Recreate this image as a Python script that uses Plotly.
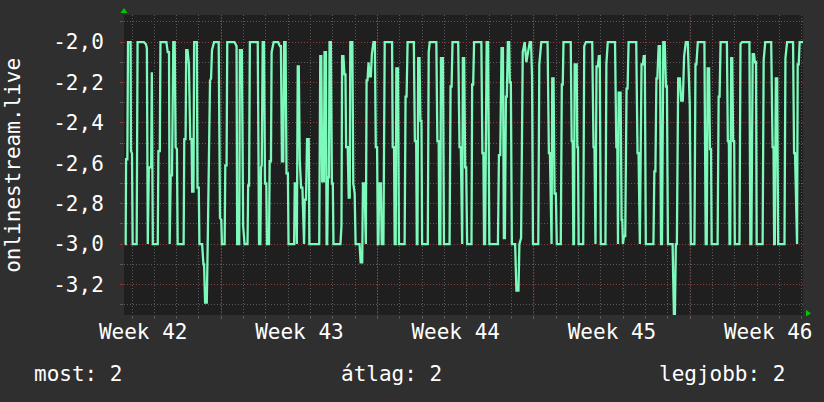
import plotly.graph_objects as go

# (hour since start, value) samples
part1 = [(0.0,-3.0),(0.7,-3.0),(1.1,-2.58),(2.5,-2.58),(3.2,-2.0),(6.0,-2.0),(6.4,-2.54),(7.5,-2.55),
         (8.2,-3.0),(12.5,-3.0),(13.5,-2.0),(20.3,-2.0),(22.4,-2.01),(23.5,-2.03),(24.5,-3.0),(25.6,-2.62),
         (28.1,-2.62),(28.8,-2.15),(29.9,-3.0),(35.2,-3.0),(35.9,-2.54),(37.4,-2.54),(38.1,-2.0),(44.5,-2.0),
         (45.9,-2.05),(47.3,-2.05),(48.0,-3.0),(49.1,-2.66),(50.5,-2.66),(51.9,-2.0),(53.4,-2.0),(54.4,-2.52),
         (55.8,-2.53),(56.6,-3.0),(63.0,-3.0),(63.7,-2.48),(65.1,-2.48),(65.8,-2.04),(67.2,-2.04),(68.7,-2.11),
         (70.1,-2.48),(71.5,-2.48),(72.2,-2.74),(73.6,-2.74),(74.3,-2.0),(77.2,-2.0),(77.9,-2.72),(79.3,-2.72),
         (80.0,-3.0),(82.9,-3.0),(84.3,-3.10),(85.0,-3.10),(86.1,-3.29),(87.9,-3.29),(88.9,-3.0),(91.4,-2.19),
         (92.5,-2.18),(93.5,-2.04),(95.7,-2.0),(100.7,-2.0),(102.1,-2.87),(103.5,-2.88),(104.2,-3.0),(107.1,-3.0),
         (107.8,-2.61),(109.2,-2.61),(109.9,-2.0),(117.7,-2.0),(119.9,-2.02)]
part2 = [(120.6,-3.0),(122.8,-3.0),(123.5,-2.04),(125.6,-2.04),(126.3,-2.51),(127.0,-2.91),(128.5,-3.0),
         (131.7,-3.0),(132.4,-2.71),(133.4,-2.71),(134.2,-2.0),(142.7,-2.0),(144.1,-3.0),(145.5,-3.0),
         (146.2,-2.62),(147.0,-2.61),(148.0,-2.0),(149.4,-2.0),(150.5,-2.70),(151.9,-2.70),(152.6,-3.0),
         (154.8,-3.0),(155.5,-2.59),(156.9,-2.59),(157.6,-2.05),(159.8,-2.0),(164.7,-2.0),(166.5,-2.02),
         (167.6,-2.02),(168.7,-2.59),(170.1,-2.59),(171.1,-2.0),(172.6,-2.0),(173.6,-2.65),(175.1,-2.65),
         (175.8,-3.0),(181.8,-3.0),(182.5,-2.70),(184.0,-2.70),(184.7,-3.0),(185.7,-2.12),(186.8,-2.12),
         (187.9,-2.59),(189.3,-2.72),(190.7,-2.72),(191.8,-3.0),(192.5,-3.0),(193.2,-2.78),(194.6,-2.78),
         (195.7,-2.48),(197.5,-2.48),(198.2,-3.0),(208.8,-3.0),(209.9,-2.07),(211.0,-2.07),(212.0,-2.69),
         (213.8,-2.69),(214.5,-2.05),(216.0,-2.05),(216.7,-3.0),(217.4,-3.0),(218.1,-2.67),(219.2,-2.67),
         (219.9,-2.0),(221.3,-2.0),(222.4,-2.70),(223.4,-2.70),(224.1,-3.0),(231.6,-3.0),(232.7,-2.91),
         (233.4,-2.07),(234.8,-2.07),(235.9,-2.16),(237.0,-2.16),(237.7,-2.52),(239.4,-2.52),(240.5,-2.77),
         (241.6,-2.77)]
part3 = [(242.2,-2.0),(244.4,-2.0),(245.4,-2.70),(246.9,-2.75),(247.9,-3.0),(252.2,-3.0),(253.3,-3.09),
         (255.0,-3.09),(255.8,-2.70),(257.5,-2.70),(258.2,-3.0),(258.9,-3.0),(259.7,-2.19),(260.7,-2.19),
         (261.8,-2.10),(262.9,-2.17),(264.3,-2.17),(265.4,-2.06),(267.1,-2.0),(268.6,-2.0),(269.6,-2.52),
         (271.0,-2.52),(271.8,-3.0),(272.5,-3.0),(273.2,-2.70),(275.0,-2.70),(276.0,-3.0),(277.8,-3.0),
         (279.2,-2.0),(287.1,-2.0),(287.8,-2.52),(289.2,-2.52),(289.9,-3.0),(291.0,-3.0),(291.7,-2.13),
         (293.5,-2.13),(294.5,-3.0),(300.6,-3.0),(301.6,-2.27),(302.7,-2.27),(303.8,-2.0),(310.5,-2.0),
         (311.6,-2.49),(313.0,-2.49),(313.7,-3.0),(314.4,-3.0),(315.2,-2.08),(316.6,-2.08),(317.6,-2.39),
         (318.7,-2.39),(319.4,-3.0),(325.5,-3.0),(326.5,-2.05),(327.6,-2.0),(334.7,-2.0),(335.8,-2.49),
         (337.2,-2.49),(337.9,-3.0),(339.0,-3.0),(339.7,-2.08),(341.8,-2.08),(342.9,-3.0),(348.9,-3.0),
         (350.0,-2.22),(351.1,-2.22),(352.1,-2.0),(358.2,-2.0),(359.6,-2.52),(361.0,-2.52),(361.7,-3.0),
         (362.5,-3.0),(363.2,-2.08)]
part4 = [(364.6,-2.08),(365.7,-2.62),(366.8,-2.62),(367.8,-3.0),(372.5,-3.0),(373.2,-2.21),(374.3,-2.21),
         (375.3,-2.0),(383.1,-2.0),(384.2,-2.55),(385.3,-2.55),(386.0,-3.0),(387.1,-3.0),(388.8,-2.0),
         (390.3,-2.0),(391.7,-3.0),(400.9,-3.0),(402.0,-2.56),(403.4,-2.56),(404.8,-2.03),(406.3,-2.03),
         (407.3,-2.97),(408.4,-2.97),(409.5,-2.27),(410.5,-2.27),(411.6,-2.0),(413.0,-2.0),(413.7,-2.20),
         (414.8,-2.20),(415.9,-3.0),(419.4,-3.0),(420.8,-3.23),(423.0,-3.23),(424.0,-3.0),(425.8,-2.97),
         (427.6,-2.05),(429.7,-2.0),(431.5,-2.10),(432.9,-2.05),(435.1,-2.0),(436.5,-2.0),(437.6,-2.17),
         (438.6,-3.0),(444.3,-3.0),(445.4,-2.11),(447.5,-2.0),(454.3,-2.0),(455.7,-2.55),(456.8,-2.55),
         (457.8,-3.0),(458.6,-3.0),(459.3,-2.18),(460.7,-2.18),(461.8,-2.75),(463.2,-2.75),(464.2,-3.0),
         (468.5,-3.0),(469.6,-2.21),(470.6,-2.21),(471.4,-2.0),(479.2,-2.0),(480.2,-2.49),(481.3,-2.49),
         (482.0,-3.0),(482.7,-3.0),(483.4,-2.11),(485.6,-2.11)]
part5 = [(486.2,-2.52),(487.0,-2.52),(487.7,-3.0),(492.6,-3.0),(493.7,-2.02),(495.5,-2.0),(502.3,-2.0),
         (503.7,-2.52),(504.7,-2.52),(505.8,-3.0),(506.9,-2.12),(508.3,-2.12),(509.4,-2.07),(510.4,-2.07),
         (511.5,-3.0),(516.5,-3.0),(517.5,-2.11),(519.0,-2.0),(526.8,-2.0),(528.2,-2.52),(529.3,-2.52),
         (530.0,-3.0),(530.7,-2.25),(532.8,-2.25),(533.9,-2.88),(534.6,-2.88),(535.3,-3.0),(536.4,-2.96),
         (537.8,-2.96),(539.2,-2.23),(540.3,-2.23),(541.4,-2.0),(549.6,-2.0),(551.0,-2.55),(552.1,-2.55),
         (553.5,-3.0),(555.3,-2.11),(556.7,-2.11),(557.7,-2.07),(558.8,-2.07),(559.9,-3.0),(568.1,-3.0),
         (569.1,-2.64),(570.2,-2.64),(571.3,-2.18),(572.3,-2.18),(573.7,-2.02),(575.2,-2.02),(576.2,-3.0),
         (577.3,-3.0),(578.7,-2.0),(580.2,-2.0),(581.6,-2.22),(582.6,-2.22),(583.7,-3.0),(588.7,-3.0),
         (590.1,-3.35),(591.2,-3.35),(592.2,-3.0),(593.3,-3.0),(594.7,-2.18),(596.5,-2.18),(597.9,-2.29),
         (599.7,-2.29),(601.1,-2.07),(602.9,-2.0),(605.0,-2.0),(606.5,-2.32)]
part6 = [(607.2,-2.32),(608.3,-3.0),(612.2,-3.0),(613.3,-2.11),(614.3,-2.11),(615.8,-2.0),(622.9,-2.0),
         (624.3,-3.0),(625.4,-3.0),(626.4,-2.13),(627.9,-2.13),(628.9,-2.53),(630.0,-2.53),(630.7,-3.0),
         (637.1,-3.0),(638.2,-2.27),(639.2,-2.27),(640.3,-2.0),(647.1,-2.0),(648.1,-2.49),(649.2,-2.49),
         (649.9,-3.0),(650.6,-3.0),(651.7,-2.08),(652.8,-2.08),(653.8,-2.49),(654.9,-2.49),(655.6,-3.0),
         (660.6,-3.0),(661.7,-2.01),(663.4,-2.0),(671.3,-2.0),(672.3,-3.0),(673.4,-3.0),(674.8,-2.06),
         (676.2,-2.06),(677.3,-2.10),(678.4,-2.10),(679.1,-3.0),(685.5,-3.0),(686.6,-2.09),(688.3,-2.0),
         (694.7,-2.0),(696.2,-2.52),(697.2,-2.52),(697.9,-3.0),(698.6,-3.0),(699.7,-2.18),(701.1,-2.18),
         (702.2,-3.0),(709.0,-3.0),(710.0,-2.08),(711.8,-2.0),(718.2,-2.0),(719.3,-2.55),(720.3,-2.55),
         (721.8,-3.0),(722.5,-3.0),(723.2,-2.11),(724.3,-2.11),(725.3,-2.0),(728.9,-2.0)]

samples = part1 + part2 + part3 + part4 + part5 + part6
hours = [p[0] for p in samples]
values = [p[1] for p in samples]

y_ticks = [-2.0, -2.2, -2.4, -2.6, -2.8, -3.0, -3.2]
y_tick_labels = ["-2,0", "-2,2", "-2,4", "-2,6", "-2,8", "-3,0", "-3,2"]
y_minor_ticks = [-1.9, -2.1, -2.3, -2.5, -2.7, -2.9, -3.1, -3.3]
week_label_hours = [19.5, 187.5, 355.5, 523.5, 691.5]
week_labels = ["Week 42", "Week 43", "Week 44", "Week 45", "Week 46"]
week_start_hours = [103.5, 271.5, 439.5, 607.5]
first_midnight_hour = 7.5
y_title = "onlinestream.live"
legend_items = ["most: 2", "átlag: 2", "legjobb: 2"]

FONT = "DejaVu Sans Mono"
BG = "#2f2f2f"
PLOT_BG = "#1f1f1f"
MINOR = "#5a5a5a"
MAJOR = "#8e3c3c"
LINE = "#7cf9bb"
ARROW = "#00c800"

W, H = 824, 402
L, R, T, B = 124, 16, 15, 87
pw, ph = W - L - R, H - T - B

def px_x(p):
    return (p - L) / pw

def px_y(p):
    return (H - B - p) / ph

fig = go.Figure()
fig.add_trace(go.Scatter(x=hours, y=values, mode="lines",
                         line=dict(color=LINE, width=2.3), hoverinfo="skip",
                         showlegend=False))

shapes = []
for h in week_start_hours:
    shapes.append(dict(type="line", xref="x", yref="paper", x0=h, x1=h, y0=-3 / ph, y1=1,
                       line=dict(color=MAJOR, width=1, dash="1px,2px"), layer="below"))
shapes.append(dict(type="path", xref="paper", yref="paper", xsizemode="pixel", ysizemode="pixel",
                   xanchor=0, yanchor=1, path="M -3.5,2 L 3.5,2 L 0,7 Z",
                   fillcolor=ARROW, line=dict(width=0)))
shapes.append(dict(type="path", xref="paper", yref="paper", xsizemode="pixel", ysizemode="pixel",
                   xanchor=1, yanchor=0, path="M 3,-1.5 L 3,5 L 8,1.75 Z",
                   fillcolor=ARROW, line=dict(width=0)))

annotations = [
    dict(text=y_title, xref="paper", yref="paper", x=px_x(12), y=px_y(165), textangle=-90,
         showarrow=False, xanchor="center", yanchor="middle",
         font=dict(family=FONT, size=21, color="white")),
    dict(text=legend_items[0], xref="paper", yref="paper", x=px_x(31), y=px_y(374),
         showarrow=False, xanchor="left", yanchor="middle",
         font=dict(family=FONT, size=21, color="white")),
    dict(text=legend_items[1], xref="paper", yref="paper", x=px_x(393), y=px_y(374),
         showarrow=False, xanchor="center", yanchor="middle",
         font=dict(family=FONT, size=21, color="white")),
    dict(text=legend_items[2], xref="paper", yref="paper", x=px_x(792), y=px_y(374),
         showarrow=False, xanchor="right", yanchor="middle",
         font=dict(family=FONT, size=21, color="white")),
]

fig.update_layout(
    width=W, height=H,
    margin=dict(l=L, r=R, t=T, b=B, pad=0),
    paper_bgcolor=BG, plot_bgcolor=PLOT_BG,
    font=dict(family=FONT, size=21, color="white"),
    shapes=shapes, annotations=annotations,
    showlegend=False,
    xaxis=dict(range=[-1.1, 728.9], tickmode="array", tickvals=week_label_hours,
               ticktext=week_labels, showgrid=False, zeroline=False, showline=False,
               ticks="", ticklabelstandoff=2,
               tickfont=dict(family=FONT, size=21, color="white"),
               minor=dict(tickmode="linear", tick0=first_midnight_hour, dtick=24,
                          showgrid=True, gridcolor=MINOR, gridwidth=1, griddash="1px,2px",
                          ticks="outside", ticklen=3, tickcolor=MINOR)),
    yaxis=dict(range=[-3.351, -1.866], tickmode="array", tickvals=y_ticks,
               ticktext=y_tick_labels, showgrid=True, gridcolor=MAJOR, gridwidth=1,
               griddash="1px,2px", zeroline=False, showline=False,
               ticks="outside", ticklen=3, tickcolor=MAJOR, ticklabelstandoff=12,
               tickfont=dict(family=FONT, size=21, color="white"),
               minor=dict(tickmode="array", tickvals=y_minor_ticks, showgrid=True,
                          gridcolor=MINOR, gridwidth=1, griddash="1px,2px",
                          ticks="outside", ticklen=3, tickcolor=MINOR)),
)

fig.write_html("out.html", config={"displayModeBar": False, "staticPlot": True},
               post_script="document.body.style.margin='0';document.body.style.background='" + BG + "';")
